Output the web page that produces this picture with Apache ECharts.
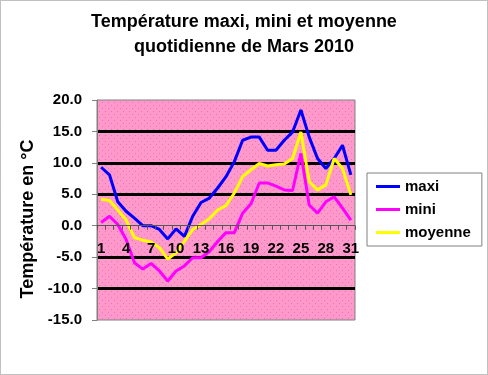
<!DOCTYPE html>
<html><head><meta charset="utf-8">
<script src="https://cdn.jsdelivr.net/npm/echarts@6/dist/echarts.min.js"></script>
<style>html,body{margin:0;padding:0;background:#fff}#c{width:488px;height:375px}</style>
</head><body><div id="c"></div>
<script>
const days = Array.from({length:31},(_,i)=>String(i+1));
const maxi = [9.3,8.1,3.8,2.3,1.2,0.0,0.0,-0.6,-2.1,-0.5,-1.7,1.5,3.7,4.4,6.0,7.8,10.2,13.6,14.1,14.1,12.0,12.0,13.6,14.9,18.4,14.1,10.7,9.1,10.7,12.8,8.1];
const mini = [0.5,1.5,0.2,-2.2,-5.9,-6.9,-6.0,-7.2,-8.8,-7.2,-6.4,-5.1,-5.1,-4.1,-2.5,-1.1,-1.1,2.0,3.5,6.8,6.8,6.3,5.7,5.6,11.5,3.3,2.0,3.8,4.6,2.8,0.9];
const moyenne = [4.2,4.0,2.5,0.9,-1.9,-2.3,-2.6,-3.5,-5.3,-4.3,-2.5,-0.6,0.2,1.1,2.5,3.2,5.2,7.8,8.9,9.9,9.5,9.7,9.8,10.7,14.9,7.0,5.7,6.5,10.7,9.1,4.9];
const yMin = -15, yMax = 20, yStep = 5;

// dotted pink pattern
const pc = document.createElement('canvas'); pc.width = 6; pc.height = 6;
const px = pc.getContext('2d');
px.fillStyle = '#FF99CC'; px.fillRect(0,0,6,6);
px.fillStyle = '#F070B0'; px.fillRect(0,0,1,1); px.fillRect(3,3,1,1);

const gridTop = 100, gridH = 220;
const zeroOffset = -gridH * (0 - yMin) / (yMax - yMin);

const chart = echarts.init(document.getElementById('c'));
const font = '"Liberation Sans", Arial, sans-serif';
chart.setOption({
  animation:false,
  backgroundColor:'#fff',
  title:{text:'Température maxi, mini et moyenne\nquotidienne de Mars 2010', left:'center', top:5,
    textStyle:{fontFamily:font,fontSize:18,fontWeight:'bold',color:'#000',lineHeight:25}},
  legend:{orient:'vertical', left:367, top:173, itemWidth:24, itemHeight:3, itemGap:8,
    padding:[6,11,6,9], borderColor:'#808080', borderWidth:1, backgroundColor:'#fff',
    icon:'rect',
    textStyle:{fontFamily:font,fontSize:15,fontWeight:'bold',color:'#000',lineHeight:15},
    data:['maxi','mini','moyenne']},
  grid:{left:97, top:gridTop, width:258, height:gridH, show:true, backgroundColor:{image:pc,repeat:'repeat'}, borderColor:'#808080', borderWidth:1},
  xAxis:{type:'category', data:days, boundaryGap:true, offset:zeroOffset, z:5,
    axisLine:{onZero:false, lineStyle:{color:'#555', width:1}},
    axisTick:{show:true, interval:0, length:4, inside:false, lineStyle:{color:'#555'}},
    axisLabel:{interval:2, margin:16, fontFamily:font, fontSize:15, fontWeight:'bold', color:'#000'}},
  yAxis:{type:'value', min:yMin, max:yMax, interval:yStep,
    name:'Température en °C', nameLocation:'middle', nameGap:54,
    nameTextStyle:{fontFamily:font,fontSize:18,fontWeight:'bold',color:'#000',padding:[0,18,0,0]},
    axisLine:{show:true, lineStyle:{color:'#808080'}},
    axisTick:{show:true, length:5, lineStyle:{color:'#808080'}},
    axisLabel:{margin:15, fontFamily:font, fontSize:15, fontWeight:'bold', color:'#000', formatter:v=>v.toFixed(1)},
    splitLine:{show:true, lineStyle:{width:3, color:['rgba(0,0,0,0)','#000','#000','rgba(0,0,0,0)','#000','#000','#000','rgba(0,0,0,0)']}}},
  series:[
    {name:'maxi', type:'line', data:maxi, symbol:'none', z:2, lineStyle:{color:'#0000FF', width:3}, itemStyle:{color:'#0000FF'}},
    {name:'mini', type:'line', data:mini, symbol:'none', z:2, lineStyle:{color:'#FF00FF', width:3}, itemStyle:{color:'#FF00FF'}},
    {name:'moyenne', type:'line', data:moyenne, symbol:'none', z:2, lineStyle:{color:'#FFFF00', width:3}, itemStyle:{color:'#FFFF00'}}
  ],
  graphic:[{type:'rect', shape:{x:0.5,y:0.5,width:487,height:374}, style:{fill:null, stroke:'#808080', lineWidth:1, lineDash:[1,1]}, silent:true}]
});
</script></body></html>
